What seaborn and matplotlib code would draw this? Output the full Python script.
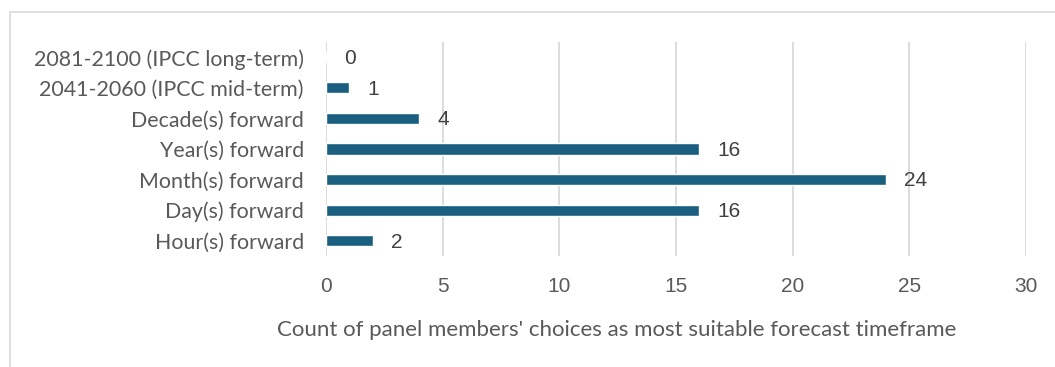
import matplotlib
matplotlib.use("Agg")
import matplotlib.pyplot as plt
from matplotlib.patches import Rectangle
import seaborn as sns
import pandas as pd

categories = [
    "2081-2100 (IPCC long-term)",
    "2041-2060 (IPCC mid-term)",
    "Decade(s) forward",
    "Year(s) forward",
    "Month(s) forward",
    "Day(s) forward",
    "Hour(s) forward",
]
counts = [0, 1, 4, 16, 24, 16, 2]
x_ticks = [0, 5, 10, 15, 20, 25, 30]
x_label = "Count of panel members' choices as most suitable forecast timeframe"

bar_color = "#1B5F80"
text_color = "#595959"
grid_color = "#D9D9D9"

sns.set_theme(style="white")
plt.rcParams["font.family"] = ["Lato", "DejaVu Sans"]

df = pd.DataFrame({"timeframe": categories, "count": counts})

fig = plt.figure(figsize=(10.55, 3.67), dpi=100)
W, H = 1055, 367
ax = fig.add_axes([326 / W, 1 - 256 / H, 700 / W, 214 / H])

sns.barplot(data=df, x="count", y="timeframe", orient="h", color=bar_color,
            saturation=1, width=0.36, ax=ax, order=categories)

ax.set_xlim(0, 30)
ax.set_ylim(len(categories) - 0.5, -0.5)
ax.set_xticks(x_ticks)
ax.set_xticklabels([str(t) for t in x_ticks], fontfamily="Liberation Sans",
                   fontsize=15, color=text_color)
ax.tick_params(axis="x", length=0, pad=15)
ax.tick_params(axis="y", length=0, pad=16)
for lbl in ax.get_yticklabels():
    lbl.set_fontsize(15.4)
    lbl.set_color(text_color)
ax.set_xlabel("")
ax.set_ylabel("")
ax.grid(axis="x", color=grid_color, linewidth=1.3)
ax.set_axisbelow(True)
for s in ax.spines.values():
    s.set_visible(False)

# value labels at the end of each bar
for i, v in enumerate(counts):
    ax.annotate(str(v), xy=(v, i), xytext=(13, -1), textcoords="offset points",
                va="center", ha="left", fontsize=15, color="#404040",
                fontfamily="Liberation Sans")

fig.text(617 / W, 1 - 330 / H, x_label, ha="center", va="center",
         fontsize=16, color=text_color)

# chart area outline
fig.patches.append(Rectangle((10 / W, -0.1), 1.2, 1 - 12 / H + 0.1,
                             transform=fig.transFigure, fill=False,
                             edgecolor=grid_color, linewidth=1.2))

fig.savefig("out.png", dpi=100, facecolor="white")
